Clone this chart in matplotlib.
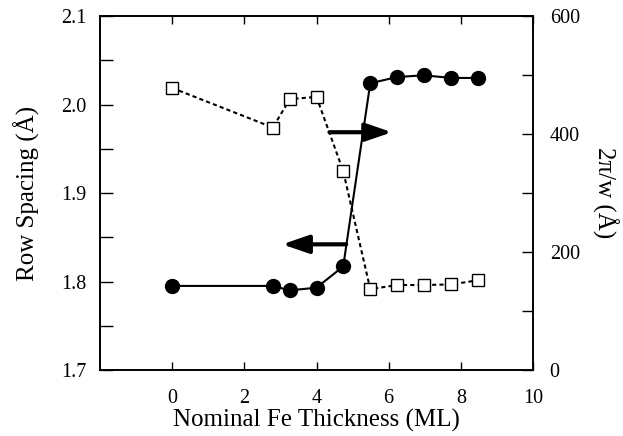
import matplotlib
matplotlib.use("Agg")
import matplotlib.pyplot as plt
from matplotlib.ticker import MultipleLocator

# Data
thickness = [0.0, 2.79, 3.26, 4.0, 4.74, 5.49, 6.23, 6.97, 7.73, 8.47]
row_spacing = [1.795, 1.795, 1.790, 1.793, 1.817, 2.024, 2.031, 2.033, 2.030, 2.030]
period = [478, 411, 459, 463, 337, 137, 144, 144, 145, 152]

x_ticks = [0, 2, 4, 6, 8, 10]
left_ticks = [1.7, 1.8, 1.9, 2.0, 2.1]
right_ticks = [0, 200, 400, 600]

plt.rcParams['font.family'] = ['Liberation Serif', 'DejaVu Serif']

fig = plt.figure(figsize=(6.23, 4.36), dpi=100)
ax = fig.add_axes([100/623, 1-370/436, 433/623, 354/436])
ax2 = ax.twinx()

ax.plot(thickness, row_spacing, '-', color='black', lw=1.5, marker='o',
        markersize=10, markerfacecolor='black', zorder=3)
ax2.plot(thickness, period, linestyle=(0, (2, 1.5)), color='black', lw=1.5,
         marker='s', markersize=8, markerfacecolor='white',
         markeredgecolor='black', markeredgewidth=1.0, zorder=3)

ax.set_xlim(-2, 10)
ax.set_ylim(1.7, 2.1)
ax2.set_ylim(0, 600)

ax.set_xticks(x_ticks)
ax.set_xticklabels(['0', '2', '4', '6', '8', '10'])
ax.set_yticks(left_ticks)
ax.set_yticklabels(['1.7', '1.8', '1.9', '2.0', '2.1'])
ax.yaxis.set_minor_locator(MultipleLocator(0.05))
ax2.set_yticks(right_ticks)
ax2.yaxis.set_minor_locator(MultipleLocator(100))

ax.tick_params(axis='x', which='both', direction='in', top=True, length=6,
               width=1, labelsize=14.5, pad=14)
ax.tick_params(axis='y', which='both', direction='in', right=False, length=9,
               width=1, labelsize=14.5, pad=10)
ax2.tick_params(axis='y', which='both', direction='in', length=8, width=1,
                labelsize=14.5, pad=12)

for a in (ax, ax2):
    for s in a.spines.values():
        s.set_linewidth(1.2)

ax.set_xlabel('Nominal Fe Thickness (ML)', fontsize=18, labelpad=0)
ax.set_ylabel('Row Spacing (Å)', fontsize=18, labelpad=15)
ax2.set_ylabel('2π/w (Å)', fontsize=18, rotation=270, labelpad=28)

# Arrows indicating which axis each series belongs to
style = '-|>,head_length=1.6,head_width=0.55'
ax2.annotate('', xy=(6.09, 403), xytext=(4.36, 403),
             arrowprops=dict(arrowstyle=style, lw=3, color='black',
                             shrinkA=0, shrinkB=0))
ax.annotate('', xy=(3.05, 1.842), xytext=(4.82, 1.842),
            arrowprops=dict(arrowstyle=style, lw=3, color='black',
                            shrinkA=0, shrinkB=0))

fig.savefig('out.png', dpi=100)
